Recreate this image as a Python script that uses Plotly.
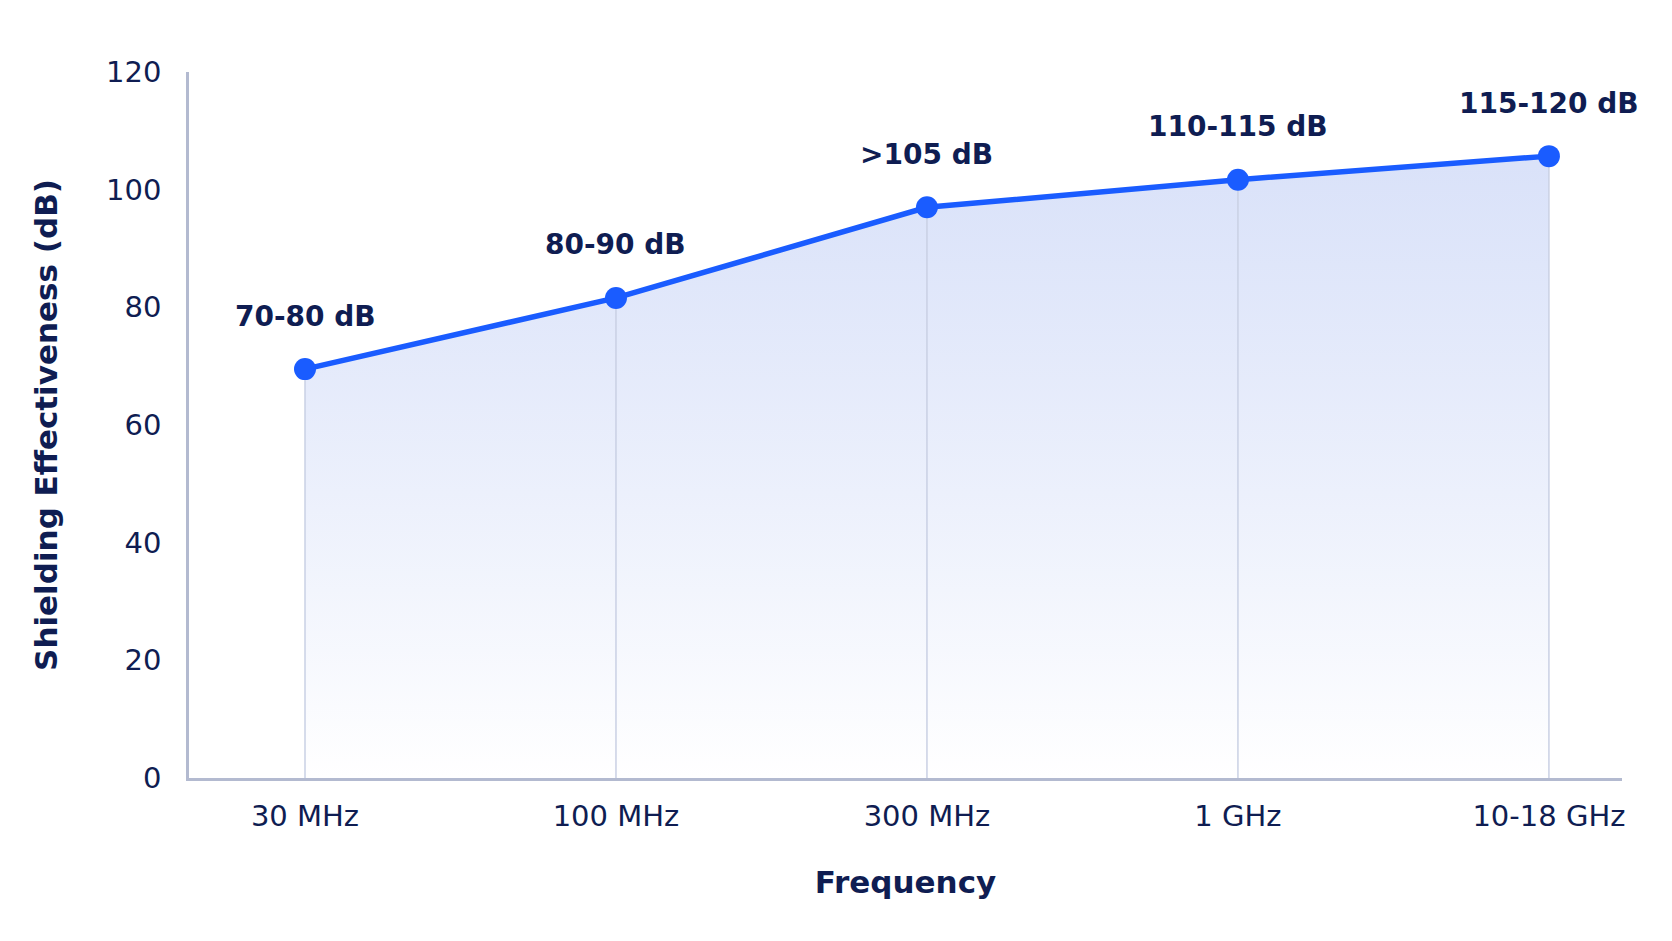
import plotly.graph_objects as go

# data
frequencies = ["30 MHz", "100 MHz", "300 MHz", "1 GHz", "10-18 GHz"]
shielding_db = [69.5, 81.6, 97.0, 101.7, 105.7]
range_labels = ["70-80 dB", "80-90 dB", ">105 dB", "110-115 dB", "115-120 dB"]

navy = "#0f1d52"
blue = "#1a5cff"

fig = go.Figure()

# gradient area under the curve
fig.add_trace(go.Scatter(
    x=frequencies, y=shielding_db, mode="none", fill="tozeroy",
    fillgradient=dict(
        type="vertical", start=0, stop=max(shielding_db),
        colorscale=[[0, "rgba(255,255,255,0.9)"], [1, "rgba(205,216,247,0.75)"]],
    ),
    hoverinfo="skip", showlegend=False,
))

# drop lines from each point to the axis
drop_x, drop_y = [], []
for f, v in zip(frequencies, shielding_db):
    drop_x += [f, f, None]
    drop_y += [0, v, None]
fig.add_trace(go.Scatter(
    x=drop_x, y=drop_y, mode="lines",
    line=dict(color="#c9d0e4", width=1.5),
    hoverinfo="skip", showlegend=False,
))

# main line
fig.add_trace(go.Scatter(
    x=frequencies, y=shielding_db, mode="lines+markers",
    line=dict(color=blue, width=5.5),
    marker=dict(color=blue, size=22),
    showlegend=False,
))

for f, v, lab in zip(frequencies, shielding_db, range_labels):
    fig.add_annotation(
        x=f, y=v, text="<b>%s</b>" % lab, showarrow=False, yshift=53,
        font=dict(family="DejaVu Sans", size=28, color=navy),
    )

fig.update_layout(
    width=1672, height=941,
    margin=dict(l=181, r=58, t=64, b=171),
    paper_bgcolor="white", plot_bgcolor="white",
    font=dict(family="DejaVu Sans", size=29, color=navy),
)
fig.update_xaxes(
    type="category", range=[-0.373, 4.235],
    showgrid=False, zeroline=False,
    showline=True, linecolor="#b3bad0", linewidth=2.5,
    ticks="", ticklabelstandoff=10,
    title=dict(text="<b>Frequency</b>", font=dict(size=31, color=navy), standoff=40),
)
fig.update_yaxes(
    range=[0, 120], tickvals=[0, 20, 40, 60, 80, 100, 120],
    showgrid=False, zeroline=False,
    showline=True, linecolor="#b3bad0", linewidth=2.5,
    ticks="", ticklabelstandoff=19,
    title=dict(text="<b>Shielding Effectiveness (dB)</b>", font=dict(size=31, color=navy), standoff=40),
)

fig.write_html("out.html")
